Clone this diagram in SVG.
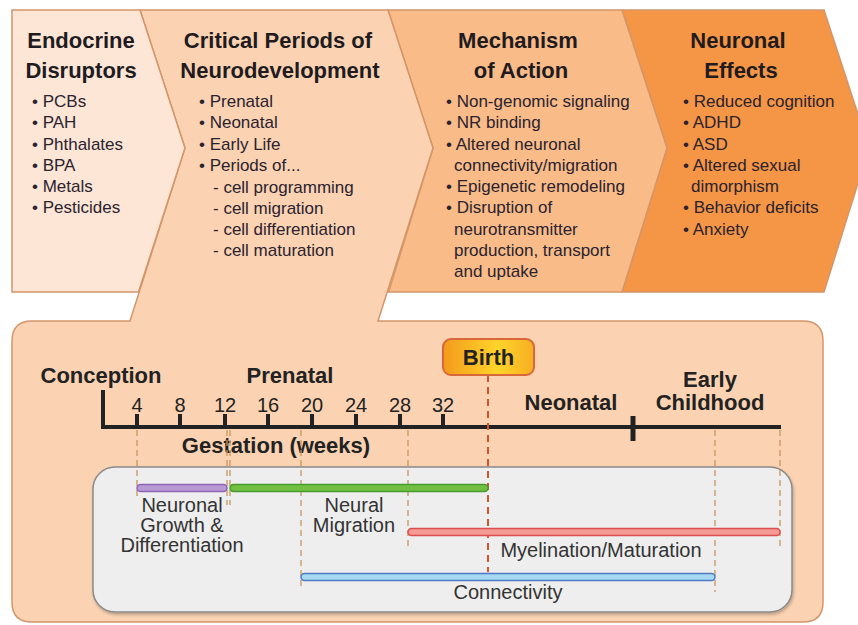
<svg xmlns="http://www.w3.org/2000/svg" width="858" height="625" viewBox="0 0 858 625">
<defs>
<linearGradient id="birthGrad" x1="0" y1="0" x2="1" y2="0">
<stop offset="0" stop-color="#F39A1C"/>
<stop offset="0.6" stop-color="#FFD42A"/>
<stop offset="1" stop-color="#F6AE22"/>
</linearGradient>
<filter id="shadow" x="-5%" y="-5%" width="110%" height="115%">
<feDropShadow dx="1" dy="2" stdDeviation="1.5" flood-color="#000" flood-opacity="0.25"/>
</filter>
</defs>
<style>
.chev{stroke:#D4956A;stroke-width:1.5;stroke-linejoin:miter}
.title{font-family:"Liberation Sans",Arial,sans-serif;font-weight:bold;font-size:22px;fill:#1f1b1f;text-anchor:middle}
.li{font-family:"Liberation Sans",Arial,sans-serif;font-size:17px;fill:#2a2230}
.axis{stroke:#222;stroke-width:4;fill:none}
.num{font-family:"Liberation Sans",Arial,sans-serif;font-size:20px;fill:#222;text-anchor:middle}
.blab{font-family:"Liberation Sans",Arial,sans-serif;font-weight:bold;font-size:22px;fill:#222;text-anchor:middle}
.lab{font-family:"Liberation Sans",Arial,sans-serif;font-size:20px;fill:#333;text-anchor:middle}
.guide{stroke:#C9955E;stroke-width:1.3;stroke-dasharray:6 4;fill:none}
.bar{stroke-width:1.5}
</style>

<g id="neuronal-effects">
<polygon class="chev" fill="#F59646" points="622,10 824,10 869,148 824,292 622,292 667,148"/>
<text class="title" x="738" y="48">Neuronal</text>
<text class="title" x="741" y="78">Effects</text>
<text class="li" x="683" y="107">• Reduced cognition</text>
<text class="li" x="683" y="128">• ADHD</text>
<text class="li" x="683" y="150">• ASD</text>
<text class="li" x="683" y="171">• Altered sexual</text>
<text class="li" x="691" y="192">dimorphism</text>
<text class="li" x="683" y="213">• Behavior deficits</text>
<text class="li" x="683" y="235">• Anxiety</text>
</g>

<g id="mechanism">
<polygon class="chev" fill="#F9BC88" points="388,10 622,10 667,148 622,292 388.6,292 433,148"/>
<text class="title" x="518" y="48">Mechanism</text>
<text class="title" x="521" y="78">of Action</text>
<text class="li" x="446" y="107">• Non-genomic signaling</text>
<text class="li" x="446" y="128">• NR binding</text>
<text class="li" x="446" y="150">• Altered neuronal</text>
<text class="li" x="454" y="171">connectivity/migration</text>
<text class="li" x="446" y="192">• Epigenetic remodeling</text>
<text class="li" x="446" y="213">• Disruption of</text>
<text class="li" x="454" y="235">neurotransmitter</text>
<text class="li" x="454" y="256">production, transport</text>
<text class="li" x="454" y="277">and uptake</text>
</g>

<g id="critical-periods">
<path class="chev" fill="#FBD3B2" d="M140,10 L388,10 L433,148 L378,321 L803,321 Q823,321 823,341 L823,602 Q823,622 803,622 L32,622 Q12,622 12,602 L12,341 Q12,321 32,321 L130,321 L185,148 Z"/>
<text class="title" x="278" y="48">Critical Periods of</text>
<text class="title" x="280" y="78">Neurodevelopment</text>
<text class="li" x="199" y="107">• Prenatal</text>
<text class="li" x="199" y="128">• Neonatal</text>
<text class="li" x="199" y="150">• Early Life</text>
<text class="li" x="199" y="171">• Periods of...</text>
<text class="li" x="213" y="193">- cell programming</text>
<text class="li" x="213" y="214">- cell migration</text>
<text class="li" x="213" y="235">- cell differentiation</text>
<text class="li" x="213" y="256">- cell maturation</text>
</g>

<g id="endocrine-disruptors">
<polygon class="chev" fill="#FDE6D5" points="12,10 140,10 185,148 138.5,292 12,292"/>
<text class="title" x="81" y="48">Endocrine</text>
<text class="title" x="81" y="78">Disruptors</text>
<text class="li" x="32" y="107">• PCBs</text>
<text class="li" x="32" y="128">• PAH</text>
<text class="li" x="32" y="150">• Phthalates</text>
<text class="li" x="32" y="171">• BPA</text>
<text class="li" x="32" y="192">• Metals</text>
<text class="li" x="32" y="213">• Pesticides</text>
</g>

<g id="timeline">
<rect x="93" y="467" width="699" height="145" rx="22" ry="22" fill="#EEEEEE" stroke="#8A8A8A" stroke-width="1.5" filter="url(#shadow)"/>
<text class="blab" x="101" y="383">Conception</text>
<text class="blab" x="290" y="383">Prenatal</text>
<text class="blab" x="276" y="453">Gestation (weeks)</text>
<text class="blab" x="571" y="410">Neonatal</text>
<text class="blab" x="710" y="387">Early</text>
<text class="blab" x="710" y="410">Childhood</text>
<path class="axis" d="M103,390 L103,427 L781,427"/>
<path class="axis" d="M137,414 V427 M180,414 V427 M225,414 V427 M268,414 V427 M312,414 V427 M356,414 V427 M400,414 V427 M443,414 V427"/>
<line x1="633" y1="416" x2="633" y2="441" stroke="#222" stroke-width="5"/>
<text class="num" x="137" y="412">4</text>
<text class="num" x="180" y="412">8</text>
<text class="num" x="225" y="412">12</text>
<text class="num" x="268" y="412">16</text>
<text class="num" x="312" y="412">20</text>
<text class="num" x="356" y="412">24</text>
<text class="num" x="400" y="412">28</text>
<text class="num" x="443" y="412">32</text>
</g>

<g id="connectors">
<path class="guide" d="M137,430 V500 M227,430 V505 M230,430 V505 M301,430 V590 M408,430 V547 M715,430 V592 M780,430 V547"/>
<line x1="488" y1="375" x2="488" y2="572" stroke="#D2552A" stroke-width="2" stroke-dasharray="7 5"/>
</g>

<g id="birth">
<rect x="443" y="339" width="91" height="36" rx="8" ry="8" fill="url(#birthGrad)" stroke="#D9673A" stroke-width="2"/>
<text class="blab" x="488.5" y="365">Birth</text>
</g>

<g id="neuronal-growth">
<rect class="bar" x="137" y="484.5" width="90" height="7" rx="3.5" fill="#B899D6" stroke="#8E66B5"/>
<text class="lab" x="182" y="512">Neuronal</text>
<text class="lab" x="182" y="532">Growth &amp;</text>
<text class="lab" x="182" y="552">Differentiation</text>
</g>

<g id="neural-migration">
<rect class="bar" x="230" y="484.5" width="258" height="7" rx="3.5" fill="#72C043" stroke="#4A9A2C"/>
<text class="lab" x="354" y="512">Neural</text>
<text class="lab" x="354" y="532">Migration</text>
</g>

<g id="myelination">
<rect class="bar" x="408" y="528.5" width="372" height="7" rx="3.5" fill="#F59A94" stroke="#DA4E4E"/>
<text class="lab" x="601" y="557">Myelination/Maturation</text>
</g>

<g id="connectivity">
<rect class="bar" x="301" y="573.5" width="414" height="7" rx="3.5" fill="#A6D9F2" stroke="#5279C4"/>
<text class="lab" x="508" y="599">Connectivity</text>
</g>
</svg>
